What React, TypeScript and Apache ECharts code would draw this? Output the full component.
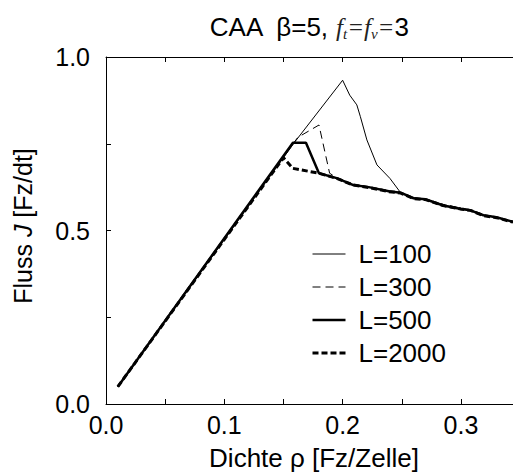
import React, { useEffect, useRef } from "react";
import * as echarts from "echarts";

const FONT = "'Liberation Sans', Arial, Helvetica, sans-serif";
const SERIF = "'Liberation Serif', 'Times New Roman', serif";

// Density (ρ) and flux (J) vertices for each system length L
const rhoL100 = [0.01, 0.16, 0.2, 0.206, 0.212, 0.215, 0.2205, 0.229, 0.24, 0.249, 0.26, 0.27, 0.285, 0.3, 0.308, 0.319, 0.33, 0.344];
const fluxL100 = [0.05, 0.757, 0.933, 0.89, 0.862, 0.828, 0.761, 0.689, 0.65, 0.609, 0.594, 0.59, 0.573, 0.563, 0.559, 0.544, 0.538, 0.525];

const rhoL300 = [0.01, 0.162, 0.18, 0.189, 0.195, 0.209, 0.222, 0.239, 0.249, 0.26, 0.27, 0.285, 0.3, 0.308, 0.319, 0.33, 0.344];
const fluxL300 = [0.05, 0.768, 0.804, 0.665, 0.652, 0.632, 0.625, 0.613, 0.609, 0.594, 0.589, 0.575, 0.565, 0.56, 0.545, 0.538, 0.525];

const rhoL500 = [0.01, 0.158, 0.169, 0.18, 0.195, 0.209, 0.222, 0.239, 0.249, 0.26, 0.27, 0.285, 0.3, 0.308, 0.319, 0.33, 0.344];
const fluxL500 = [0.05, 0.753, 0.753, 0.665, 0.651, 0.631, 0.625, 0.613, 0.609, 0.593, 0.59, 0.572, 0.562, 0.558, 0.544, 0.538, 0.525];

const rhoL2000 = [0.01, 0.15, 0.158, 0.18, 0.195, 0.209, 0.222, 0.239, 0.249, 0.26, 0.27, 0.285, 0.3, 0.308, 0.319, 0.33, 0.344];
const fluxL2000 = [0.05, 0.71, 0.679, 0.665, 0.65, 0.631, 0.624, 0.612, 0.608, 0.592, 0.589, 0.572, 0.562, 0.558, 0.543, 0.537, 0.524];

const seriesNames = ["L=100", "L=300", "L=500", "L=2000"];

const X_MIN = 0;
const X_MAX = 0.344;
const X_TICK = 0.05;
const Y_MIN = 0;
const Y_MAX = 1;
const Y_TICK = 0.25;

const pairs = (xs: number[], ys: number[]) => xs.map((x, i) => [x, ys[i]]);

export default function App() {
  const ref = useRef<HTMLDivElement>(null);

  useEffect(() => {
    if (!ref.current) return;
    const chart = echarts.init(ref.current, undefined, { renderer: "svg" });

    const axisLine = { show: true, onZero: false, lineStyle: { color: "#000", width: 1 } };
    const axisTick = { show: true, inside: true, length: 5, lineStyle: { color: "#000", width: 1 } };

    const lineSeries = (name: string, data: number[][], width: number, type: any, z: number) => ({
      name,
      type: "line",
      data,
      xAxisIndex: 0,
      symbol: "none",
      showSymbol: false,
      z,
      lineStyle: { color: "#000", width, type },
      itemStyle: { color: "#000" },
    });

    const option: any = {
      animation: false,
      textStyle: { fontFamily: FONT, color: "#000" },
      grid: { left: 106, right: 0, top: 57, bottom: 69, containLabel: false },
      xAxis: [
        {
          type: "value",
          min: X_MIN,
          max: X_MAX,
          interval: X_TICK,
          position: "bottom",
          axisLine,
          axisTick,
          splitLine: { show: false },
          axisLabel: {
            color: "#000",
            fontFamily: FONT,
            fontSize: 25,
            margin: 8,
            showMaxLabel: false,
            formatter: (v: number) => (Math.round(v * 100) % 10 === 0 ? v.toFixed(1) : ""),
          },
        },
        {
          type: "value",
          min: X_MIN,
          max: X_MAX,
          interval: X_TICK,
          position: "top",
          axisLine,
          axisTick,
          splitLine: { show: false },
          axisLabel: { show: false },
        },
      ],
      yAxis: {
        type: "value",
        min: Y_MIN,
        max: Y_MAX,
        interval: Y_TICK,
        axisLine,
        axisTick,
        splitLine: { show: false },
        axisLabel: {
          color: "#000",
          fontFamily: FONT,
          fontSize: 25,
          margin: 16,
          formatter: (v: number) => (Math.round(v * 100) % 50 === 0 ? v.toFixed(1) : ""),
        },
      },
      legend: {
        orient: "vertical",
        left: 306,
        top: 236,
        itemWidth: 33,
        itemHeight: 14,
        itemGap: 7,
        data: seriesNames,
        itemStyle: { opacity: 0 },
        lineStyle: { width: "inherit", type: "inherit" },
        textStyle: {
          fontFamily: FONT,
          fontSize: 26,
          lineHeight: 26,
          color: "#000",
          padding: [0, 0, 0, 8],
        },
      },
      series: [
        lineSeries(seriesNames[0], pairs(rhoL100, fluxL100), 1, "solid", 4),
        lineSeries(seriesNames[1], pairs(rhoL300, fluxL300), 1, [8, 5], 3),
        lineSeries(seriesNames[2], pairs(rhoL500, fluxL500), 2.5, "solid", 2),
        lineSeries(seriesNames[3], pairs(rhoL2000, fluxL2000), 3, [6, 3], 1),
      ],
      graphic: [
        {
          type: "text",
          x: 309,
          y: 27,
          style: {
            text: "{s|CAA  β=5, }{f|f}{sub|t}{f|=f}{sub|v}{f|=}{s|3}",
            align: "center",
            verticalAlign: "middle",
            rich: {
              s: { fontFamily: FONT, fontSize: 26, fill: "#000", lineHeight: 28 },
              f: { fontFamily: SERIF, fontStyle: "italic", fontSize: 25, fill: "#222", lineHeight: 28 },
              sub: { fontFamily: SERIF, fontStyle: "italic", fontSize: 15, fill: "#222", lineHeight: 28, verticalAlign: "bottom" },
            },
          },
        },
        {
          type: "text",
          x: 23,
          y: 226,
          rotation: Math.PI / 2,
          style: {
            text: "{a|Fluss }{i|J}{a| [Fz/dt]}",
            align: "center",
            verticalAlign: "middle",
            rich: {
              a: { fontFamily: FONT, fontSize: 25, fill: "#000" },
              i: { fontFamily: FONT, fontStyle: "italic", fontSize: 25, fill: "#000" },
            },
          },
        },
        {
          type: "text",
          x: 314,
          y: 458,
          style: {
            text: "Dichte ρ [Fz/Zelle]",
            align: "center",
            verticalAlign: "middle",
            fontFamily: FONT,
            fontSize: 26,
            fill: "#000",
          },
        },
      ],
    };

    chart.setOption(option);
    return () => chart.dispose();
  }, []);

  return (
    <div
      ref={ref}
      style={{ position: "fixed", left: 0, top: 0, width: 513, height: 473, background: "#fff" }}
    />
  );
}
